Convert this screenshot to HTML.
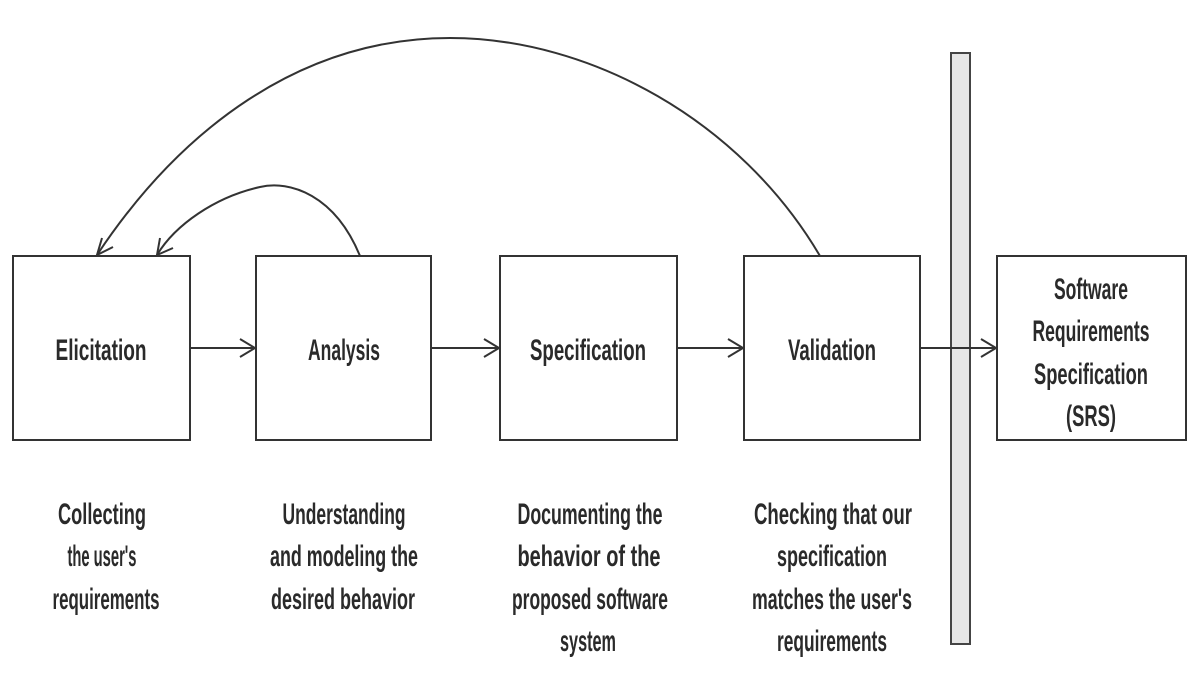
<!DOCTYPE html>
<html><head><meta charset="utf-8"><style>
html,body{margin:0;padding:0;background:#fff;}
svg{display:block}
text{font-family:"Liberation Sans Narrow","Liberation Sans",sans-serif;font-weight:bold;font-size:30px;fill:#2a2a2a;text-anchor:middle}
</style></head><body>
<svg width="1200" height="689" viewBox="0 0 1200 689" xmlns="http://www.w3.org/2000/svg">
<g fill="none" stroke="#333" stroke-width="2">
<rect x="13" y="256" width="177" height="184"/>
<rect x="256" y="256" width="175" height="184"/>
<rect x="500" y="256" width="177" height="184"/>
<rect x="744" y="256" width="176" height="184"/>
<rect x="997" y="256" width="189" height="184"/>
</g>
<rect x="951" y="53" width="19" height="591" fill="#e6e6e6" stroke="#444" stroke-width="2"/>
<g fill="none" stroke="#333" stroke-width="2">
<line x1="190" y1="348" x2="255" y2="348"/><polyline points="240,339 255,348 240,357"/>
<line x1="431" y1="348" x2="499" y2="348"/><polyline points="484,339 499,348 484,357"/>
<line x1="677" y1="348" x2="743" y2="348"/><polyline points="728,339 743,348 728,357"/>
<line x1="920" y1="348" x2="996" y2="348"/><polyline points="981,339 996,348 981,357"/>
<path d="M360,256 C335,195 290,180 260,187 C215,197 175,225 157,255"/>
<polyline points="160,238 157,255 173,248"/>
<path d="M820,256 C740,120 590,38 450,38 C300,38 180,130 97,255"/>
<polyline points="102,238 97,255 113,247"/>
</g>
<text x="101" y="360" textLength="91" lengthAdjust="spacingAndGlyphs">Elicitation</text>
<text x="344" y="360" textLength="72" lengthAdjust="spacingAndGlyphs">Analysis</text>
<text x="588" y="360" textLength="116" lengthAdjust="spacingAndGlyphs">Specification</text>
<text x="832" y="360" textLength="88" lengthAdjust="spacingAndGlyphs">Validation</text>
<text x="1091" y="299" textLength="74" lengthAdjust="spacingAndGlyphs">Software</text>
<text x="1091" y="341" textLength="117" lengthAdjust="spacingAndGlyphs">Requirements</text>
<text x="1091" y="384" textLength="114" lengthAdjust="spacingAndGlyphs">Specification</text>
<text x="1091" y="426" textLength="50" lengthAdjust="spacingAndGlyphs">(SRS)</text>

<text x="102" y="524" textLength="88" lengthAdjust="spacingAndGlyphs">Collecting</text>
<text x="102" y="566" textLength="69" lengthAdjust="spacingAndGlyphs">the user's</text>
<text x="106" y="609" textLength="107" lengthAdjust="spacingAndGlyphs">requirements</text>

<text x="344" y="524" textLength="123" lengthAdjust="spacingAndGlyphs">Understanding</text>
<text x="344" y="566" textLength="148" lengthAdjust="spacingAndGlyphs">and modeling the</text>
<text x="343" y="609" textLength="144" lengthAdjust="spacingAndGlyphs">desired behavior</text>

<text x="590" y="524" textLength="145" lengthAdjust="spacingAndGlyphs">Documenting the</text>
<text x="589" y="566" textLength="143" lengthAdjust="spacingAndGlyphs">behavior of the</text>
<text x="590" y="609" textLength="156" lengthAdjust="spacingAndGlyphs">proposed software</text>
<text x="588" y="651" textLength="56" lengthAdjust="spacingAndGlyphs">system</text>

<text x="833" y="524" textLength="158" lengthAdjust="spacingAndGlyphs">Checking that our</text>
<text x="832" y="566" textLength="110" lengthAdjust="spacingAndGlyphs">specification</text>
<text x="832" y="609" textLength="160" lengthAdjust="spacingAndGlyphs">matches the user's</text>
<text x="832" y="651" textLength="110" lengthAdjust="spacingAndGlyphs">requirements</text>
</svg>
</body></html>
